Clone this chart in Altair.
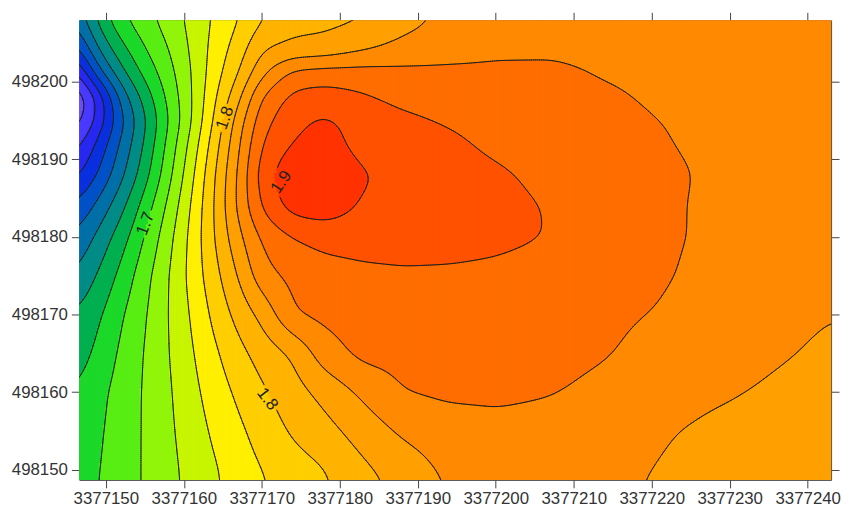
import numpy as np
import pandas as pd
import altair as alt

alt.data_transformers.disable_max_rows()

# ---- estimated values of the surface on a grid ----
x_nodes = [3377146, 3377149, 3377152, 3377155, 3377158, 3377161, 3377164, 3377167, 3377170, 3377174,
           3377178, 3377183, 3377188, 3377194, 3377200, 3377207, 3377214, 3377221, 3377228, 3377236, 3377244]
y_nodes = [498208, 498204, 498201, 498198, 498195, 498192, 498188, 498184, 498180, 498175, 498170,
           498165, 498160, 498155, 498150, 498147]
z_grid = [
    [1.620, 1.666, 1.697, 1.713, 1.729, 1.746, 1.763, 1.779, 1.799, 1.812, 1.814, 1.819, 1.832, 1.845, 1.852, 1.855, 1.856, 1.856, 1.855, 1.853, 1.852],
    [1.585, 1.640, 1.673, 1.699, 1.719, 1.743, 1.768, 1.790, 1.820, 1.826, 1.828, 1.838, 1.847, 1.853, 1.857, 1.858, 1.857, 1.856, 1.855, 1.853, 1.852],
    [1.545, 1.612, 1.654, 1.686, 1.712, 1.740, 1.772, 1.799, 1.836, 1.868, 1.872, 1.871, 1.867, 1.865, 1.864, 1.863, 1.859, 1.857, 1.855, 1.853, 1.852],
    [1.515, 1.562, 1.628, 1.668, 1.705, 1.739, 1.778, 1.814, 1.863, 1.886, 1.888, 1.882, 1.875, 1.871, 1.868, 1.865, 1.862, 1.858, 1.856, 1.854, 1.852],
    [1.525, 1.565, 1.614, 1.657, 1.699, 1.739, 1.784, 1.830, 1.873, 1.894, 1.904, 1.891, 1.884, 1.878, 1.872, 1.868, 1.864, 1.860, 1.857, 1.854, 1.852],
    [1.548, 1.585, 1.624, 1.662, 1.706, 1.747, 1.792, 1.837, 1.882, 1.901, 1.910, 1.891, 1.890, 1.884, 1.876, 1.870, 1.866, 1.861, 1.857, 1.854, 1.852],
    [1.572, 1.601, 1.635, 1.672, 1.713, 1.755, 1.800, 1.843, 1.891, 1.916, 1.921, 1.902, 1.894, 1.888, 1.883, 1.875, 1.869, 1.863, 1.858, 1.855, 1.852],
    [1.600, 1.625, 1.654, 1.689, 1.724, 1.762, 1.802, 1.845, 1.883, 1.910, 1.913, 1.897, 1.893, 1.889, 1.885, 1.879, 1.870, 1.863, 1.857, 1.854, 1.851],
    [1.620, 1.645, 1.671, 1.701, 1.733, 1.766, 1.801, 1.835, 1.864, 1.880, 1.887, 1.889, 1.889, 1.887, 1.884, 1.8795, 1.870, 1.863, 1.857, 1.853, 1.850],
    [1.640, 1.662, 1.686, 1.713, 1.739, 1.767, 1.794, 1.821, 1.853, 1.865, 1.871, 1.875, 1.877, 1.877, 1.876, 1.873, 1.868, 1.862, 1.855, 1.851, 1.848],
    [1.660, 1.676, 1.698, 1.718, 1.740, 1.762, 1.786, 1.807, 1.825, 1.860, 1.865, 1.868, 1.869, 1.870, 1.869, 1.867, 1.863, 1.859, 1.851, 1.845, 1.840],
    [1.668, 1.685, 1.704, 1.721, 1.739, 1.758, 1.777, 1.794, 1.808, 1.822, 1.851, 1.866, 1.866, 1.867, 1.867, 1.865, 1.861, 1.855, 1.849, 1.842, 1.836],
    [1.680, 1.694, 1.708, 1.722, 1.737, 1.754, 1.770, 1.784, 1.797, 1.812, 1.826, 1.844, 1.860, 1.864, 1.864, 1.861, 1.856, 1.849, 1.843, 1.837, 1.832],
    [1.685, 1.697, 1.709, 1.722, 1.736, 1.750, 1.764, 1.776, 1.788, 1.803, 1.813, 1.829, 1.843, 1.850, 1.854, 1.853, 1.848, 1.842, 1.836, 1.832, 1.828],
    [1.689, 1.699, 1.710, 1.722, 1.734, 1.747, 1.758, 1.770, 1.780, 1.791, 1.799, 1.816, 1.830, 1.844, 1.850, 1.852, 1.846, 1.839, 1.834, 1.830, 1.827],
    [1.692, 1.700, 1.710, 1.722, 1.734, 1.745, 1.757, 1.768, 1.777, 1.787, 1.796, 1.810, 1.824, 1.840, 1.848, 1.850, 1.844, 1.837, 1.832, 1.829, 1.826],
]

contour_levels = [1.54, 1.56, 1.58, 1.60, 1.62, 1.64, 1.66, 1.68, 1.70, 1.72, 1.74, 1.76,
                  1.78, 1.80, 1.82, 1.84, 1.86, 1.88, 1.90]
band_colors = ["#6E4CFF", "#4A3AFF", "#2828F2", "#0A30E0", "#0052C8", "#0070A8", "#008C88",
               "#00B050", "#1CD92A", "#5AEE14", "#92F50A", "#C8F500", "#FFEF00", "#FFCF00",
               "#FFB400", "#FFA000", "#FF8A00", "#FF6E00", "#FF5200", "#FF3300"]

x_ticks = [3377150, 3377160, 3377170, 3377180, 3377190, 3377200, 3377210, 3377220, 3377230, 3377240]
y_ticks = [498150, 498160, 498170, 498180, 498190, 498200]

label_text = ["1.7", "1.8", "1.9", "1.8"]
label_x = [3377155.1, 3377165.3, 3377172.5, 3377170.7]
label_y = [498181.7, 498195.3, 498187.05, 498159.1]
label_angle = [291, 290, 305, 52]
label_level = [1.70, 1.80, 1.90, 1.80]

X_DOMAIN = [3377146.6, 3377243.0]
Y_DOMAIN = [498148.7, 498207.9]

# ---- rendering the surface (bilinear between grid values + light smoothing) ----
xn = np.array(x_nodes, float)
yn = np.array(y_nodes, float)[::-1]
Z = np.array(z_grid, float)[::-1]
step = 0.25
xf = np.arange(X_DOMAIN[0] - 0.25, X_DOMAIN[1] + 0.3, step)
yf = np.arange(Y_DOMAIN[0] - 0.25, Y_DOMAIN[1] + 0.3, step)
Zx = np.array([np.interp(xf, xn, row) for row in Z])
F = np.array([np.interp(yf, yn, Zx[:, i]) for i in range(len(xf))]).T


def smooth(a, sigma, axis):
    r = int(3 * sigma) + 1
    k = np.exp(-0.5 * (np.arange(-r, r + 1) / sigma) ** 2)
    k /= k.sum()
    pad = [(0, 0)] * a.ndim
    pad[axis] = (r, r)
    ap = np.pad(a, pad, mode="edge")
    return np.apply_along_axis(lambda v: np.convolve(v, k, mode="valid"), axis, ap)


F = smooth(smooth(F, 4.5, 0), 4.5, 1)

lv = np.array(contour_levels)
rect_rows = []
yy = np.arange(yf[0], yf[-1], 0.05)
half = step / 2 + 0.06
for i, xc in enumerate(xf):
    zz = np.interp(yy, yf, F[:, i])
    b = np.searchsorted(lv, zz, side="right")
    change = np.nonzero(np.diff(b))[0]
    starts = np.concatenate([[0], change + 1])
    ends = np.concatenate([change, [len(b) - 1]])
    for s, e in zip(starts, ends):
        y_lo = yy[s] - 0.025 if s > 0 else yy[0]
        y_hi = yy[e] + 0.025 if e < len(b) - 1 else yy[-1]
        k = b[s]
        zb = lv[0] - 0.01 if k == 0 else lv[k - 1] + 0.01
        rect_rows.append((xc - half, xc + half, y_lo, y_hi, zb))
rects = pd.DataFrame(rect_rows, columns=["x", "x2", "y", "y2", "z"])

# contour lines (marching squares)
PX_X, PX_Y = 7.88, 7.8
seg_rows = []
for L in contour_levels:
    A = F >= L
    mixed = (A[:-1, :-1] != A[:-1, 1:]) | (A[:-1, :-1] != A[1:, :-1]) | (A[:-1, :-1] != A[1:, 1:])
    for j, i in np.argwhere(mixed):
        c = [(xf[i], yf[j], F[j, i]), (xf[i + 1], yf[j], F[j, i + 1]),
             (xf[i + 1], yf[j + 1], F[j + 1, i + 1]), (xf[i], yf[j + 1], F[j + 1, i])]
        pts = []
        for a in range(4):
            xa, ya, za = c[a]
            xb, yb, zb_ = c[(a + 1) % 4]
            if (za >= L) != (zb_ >= L):
                t = (L - za) / (zb_ - za)
                pts.append((xa + t * (xb - xa), ya + t * (yb - ya)))
        pairs = [(0, 1)] if len(pts) == 2 else ([(0, 1), (2, 3)] if len(pts) == 4 else [])
        for p, q in pairs:
            mx = (pts[p][0] + pts[q][0]) / 2
            my = (pts[p][1] + pts[q][1]) / 2
            skip = False
            for lx, ly, ll in zip(label_x, label_y, label_level):
                if abs(ll - L) < 1e-6 and ((mx - lx) * PX_X) ** 2 + ((my - ly) * PX_Y) ** 2 < 15 ** 2:
                    skip = True
            if not skip:
                seg_rows.append((L, pts[p][0], pts[p][1], pts[q][0], pts[q][1]))
segs = pd.DataFrame(seg_rows, columns=["level", "x", "y", "x2", "y2"])

labels = pd.DataFrame({"text": label_text, "x": label_x, "y": label_y, "angle": label_angle})

xs = alt.Scale(domain=X_DOMAIN, nice=False, zero=False)
ys = alt.Scale(domain=Y_DOMAIN, nice=False, zero=False)
common = dict(grid=False, title=None, tickSize=8, tickColor="#444", domainColor="#444",
              tickWidth=1, domainWidth=1)
ax_bottom = alt.Axis(orient="bottom", values=x_ticks, format="d", labelFont="Liberation Sans",
                     labelFontSize=17, labelColor="#333", labelPadding=3, labelFlush=False,
                     labelOverlap=False, **common)
ax_left = alt.Axis(orient="left", values=y_ticks, format="d", labelFont="Liberation Sans",
                   labelFontSize=17, labelColor="#333", labelPadding=4, labelOverlap=False, **common)
ax_top = alt.Axis(orient="top", values=x_ticks, labels=False, **common)
ax_right = alt.Axis(orient="right", values=y_ticks, labels=False, **common)

band_scale = alt.Scale(type="threshold", domain=contour_levels, range=band_colors)
fill = alt.Chart(rects).mark_rect(clip=True, strokeWidth=0.4).encode(
    x=alt.X("x:Q", scale=xs, axis=ax_bottom),
    x2="x2:Q",
    y=alt.Y("y:Q", scale=ys, axis=ax_left),
    y2="y2:Q",
    color=alt.Color("z:Q", scale=band_scale, legend=None),
    stroke=alt.Stroke("z:Q", scale=band_scale, legend=None),
)
lines = alt.Chart(segs).mark_rule(clip=True, color="#1e1e1e", strokeWidth=1.0, strokeCap="round").encode(
    x=alt.X("x:Q", scale=xs, axis=ax_top),
    x2="x2:Q",
    y=alt.Y("y:Q", scale=ys, axis=ax_right),
    y2="y2:Q",
)
text = alt.Chart(labels).mark_text(font="Liberation Sans", fontSize=17, color="#222",
                                   align="center", baseline="middle").encode(
    x=alt.X("x:Q", scale=xs, axis=None),
    y=alt.Y("y:Q", scale=ys, axis=None),
    text="text:N",
    angle=alt.Angle("angle:Q", scale=None),
)

chart = alt.layer(fill, lines, text).resolve_axis(x="independent", y="independent").properties(
    width=759, height=464,
    autosize=alt.AutoSizeParams(type="none"),
    padding={"left": 72, "top": 10, "right": 10, "bottom": 29},
    background="white",
).configure_view(stroke=None)

chart.save("out.html", embed_options={"renderer": "svg", "actions": False})
